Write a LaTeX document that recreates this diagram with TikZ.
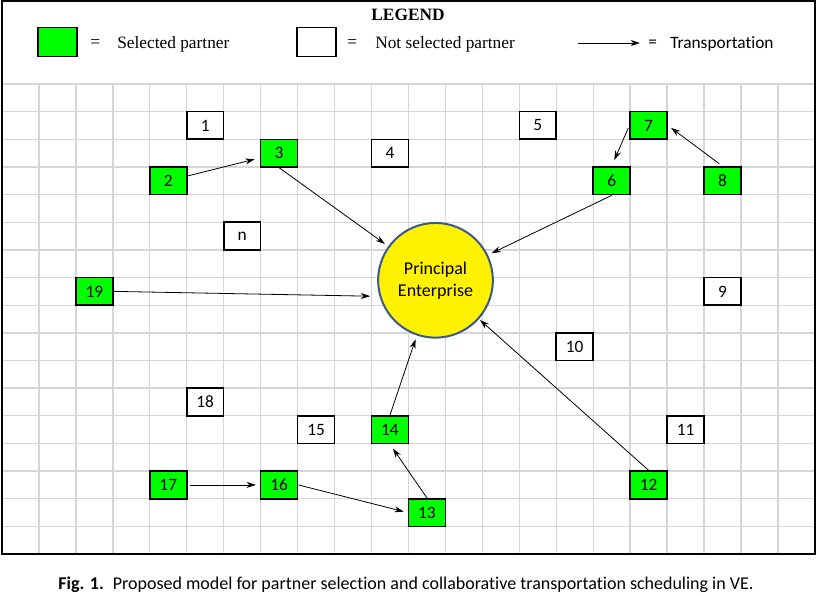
\documentclass[tikz,border=0pt]{standalone}
\usepackage{fontspec}
\setmainfont{Liberation Serif}
\newfontfamily\calib[RawFeature={-liga}]{Carlito}
\usetikzlibrary{arrows.meta}
\definecolor{peblue}{RGB}{59,89,140}

\tikzset{
	gridline/.style={black!16, line width=1pt},
	partner/.style={draw, line width=1.2pt, minimum width=27.7pt, minimum height=20.7pt, inner sep=0pt, font=\calib\fontsize{13}{15}\selectfont},
	selected/.style={partner, fill=green},
	notselected/.style={partner, fill=white},
	transport/.style={-{Stealth[length=7pt,width=4.5pt]}, line width=0.6pt},
	legtext/.style={anchor=west, inner sep=0pt, font=\fontsize{13}{15}\selectfont}
}

\begin{document}
\begin{tikzpicture}[x=0.75pt,y=-0.75pt]
	\useasboundingbox (0,0) rectangle (819,596);
	% grid
	\foreach \c in {0,...,22} \draw[gridline] ({2+36.95*\c},84) -- ({2+36.95*\c},554);
	\foreach \r in {0,...,17} \draw[gridline] (2,{84+27.65*\r}) -- (815,{84+27.65*\r});
	\draw[line width=1.1pt] (2,1) rectangle (815,554);
	% legend
	\node[font=\bfseries\fontsize{13}{15}\selectfont] (legend) at (408,15) {LEGEND};
	\node[selected, minimum width=29.3pt, minimum height=21.8pt] (lsel) at (57.5,42) {};
	\node[legtext] (leq1) at (90,44) {=};
	\node[legtext] (ltsel) at (117,44) {Selected partner};
	\node[notselected, minimum width=29.3pt, minimum height=21.8pt] (lnot) at (316.5,42) {};
	\node[legtext] (leq2) at (347,44) {=};
	\node[legtext] (ltnot) at (375,44) {Not selected partner};
	\coordinate (la) at (578,43);
	\coordinate (lb) at (640,43);
	\draw[transport] (la) -- (lb);
	\node[legtext, font=\calib\fontsize{13}{15}\selectfont] (leq3) at (648,44) {=};
	\node[legtext, font=\calib\fontsize{13}{15}\selectfont] (ltrans) at (670,44) {Transportation};
	% partners
	\foreach \n/\c/\r in {2/4/3, 3/7/2, 6/16/3, 7/17/1, 8/19/3, 19/2/7, 14/10/12, 13/11/15, 12/17/14, 16/7/14, 17/4/14}
		\node[selected] (p\n) at ({2+36.95*(\c+0.5)},{84+27.65*(\r+0.5)}) {\n};
	\foreach \n/\c/\r in {1/5/1, 4/10/2, 5/14/1, n/6/5, 9/19/7, 10/15/9, 11/18/12, 15/8/12, 18/5/11}
		\node[notselected] (p\n) at ({2+36.95*(\c+0.5)},{84+27.65*(\r+0.5)}) {\n};
	\node[circle, draw=peblue, fill=yellow, line width=1.5pt, minimum size=86pt, inner sep=0pt, align=center, font=\calib\fontsize{13.5}{16.5}\selectfont] (pe) at (435.5,280.3) {Principal\\Enterprise};
	% transportation
	\path[transport]
	(p2) edge[shorten >=4pt] (p3)
	(p3.south) edge[shorten >=3pt] (pe)
	(p6.south) edge[shorten >=3pt] (pe)
	(p19.east) edge[shorten >=7pt] (pe.196)
	(p7.west) edge[shorten <=2pt, shorten >=5pt] (p6.north)
	(p8.north) edge[shorten <=3pt, shorten >=3pt] (p7.east)
	(p14.north) edge[shorten >=3pt] (pe)
	(p13.north) edge[shorten >=4pt] (p14.south)
	(p16.east) edge[shorten >=3pt] (p13.west)
	(p17.east) edge[shorten <=2pt, shorten >=3pt] (p16.west)
	(p12.north) edge[shorten >=1pt] (pe);
	% caption
	\node[font=\calib\fontsize{13.5}{16}\selectfont] (caption) at (406,585) {\textbf{Fig. 1.}\enspace Proposed model for partner selection and collaborative transportation scheduling in VE.};
\end{tikzpicture}
\end{document}
